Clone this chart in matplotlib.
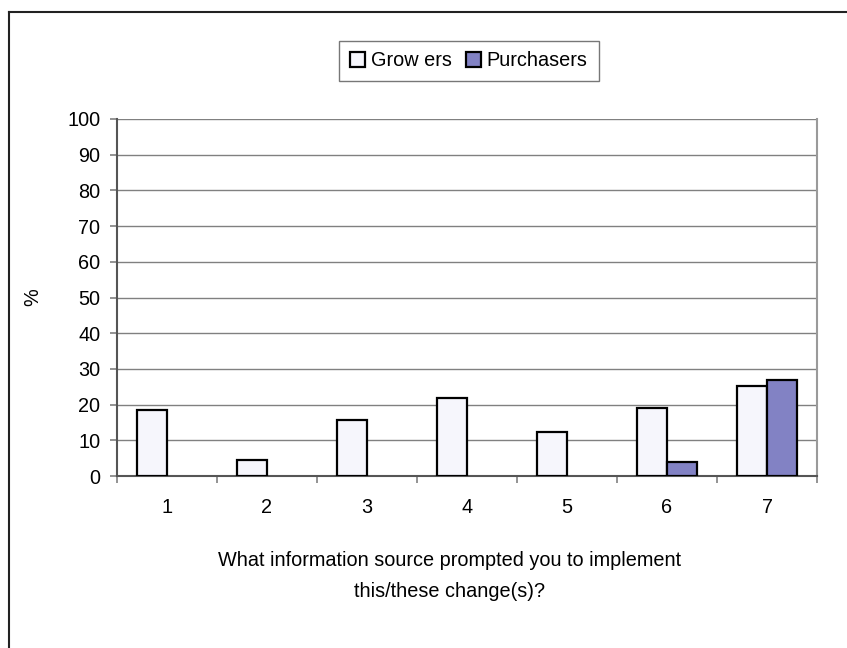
import matplotlib
matplotlib.use('Agg')
import matplotlib.pyplot as plt
from matplotlib.lines import Line2D
from matplotlib.patches import Patch
import numpy as np

plt.rcParams['font.family'] = ['Liberation Sans', 'DejaVu Sans']

# Survey answers (% of respondents)
categories = ['1', '2', '3', '4', '5', '6', '7']
growers = [18.5, 4.5, 15.7, 21.9, 12.4, 19.1, 25.3]
purchasers = [0, 0, 0, 0, 0, 4.0, 26.9]
y_ticks = [0, 10, 20, 30, 40, 50, 60, 70, 80, 90, 100]

GROWER_FILL = '#f6f6fc'
PURCH_FILL = '#8282c4'
GRID = '#808080'
FS = 14.3

fig = plt.figure(figsize=(8.47, 6.48), dpi=100)
ax = fig.add_axes([117 / 847, 1 - 476 / 648, 700 / 847, 357 / 648])

x = np.arange(len(categories))
w = 0.3
ax.bar(x - w / 2, growers, width=w, color=GROWER_FILL, edgecolor='black',
       linewidth=1.6, zorder=3, label='Grow ers')
ax.bar(x + w / 2, purchasers, width=w, color=PURCH_FILL, edgecolor='black',
       linewidth=1.6, zorder=3, label='Purchasers')
# hide the zero-height purchaser outlines
for p, v in zip(ax.patches[len(categories):], purchasers):
    if v == 0:
        p.set_visible(False)

ax.set_xlim(-0.5, len(categories) - 0.5)
ax.set_ylim(0, 100)
ax.set_yticks(y_ticks)
ax.set_yticklabels([str(t) for t in y_ticks], fontsize=FS)
ax.yaxis.grid(True, color=GRID, linewidth=1, zorder=0)
ax.set_axisbelow(True)

# category labels centred, tick marks on the boundaries
ax.set_xticks(x)
ax.set_xticklabels(categories, fontsize=FS)
ax.tick_params(axis='x', which='major', length=0, pad=16)
ax.set_xticks(np.arange(-0.5, len(categories)), minor=True)
ax.tick_params(axis='x', which='minor', length=5, color=GRID, width=1.2)
ax.tick_params(axis='y', length=5, color=GRID, width=1.2, pad=7)

for side in ['left', 'bottom']:
    ax.spines[side].set_color('#555555')
    ax.spines[side].set_linewidth(1.5)
ax.spines['right'].set_color('#9a9a9a')
ax.spines['right'].set_linewidth(1.5)
ax.spines['top'].set_visible(False)

fig.text(33 / 847, 1 - 297 / 648, '%', rotation=90, ha='center', va='center',
         fontsize=FS)
fig.text(450 / 847, 1 - 576 / 648,
         'What information source prompted you to implement\nthis/these change(s)?',
         ha='center', va='center', fontsize=FS, linespacing=1.85)

handles = [Patch(facecolor=GROWER_FILL, edgecolor='black', linewidth=1.6, label='Grow ers'),
           Patch(facecolor=PURCH_FILL, edgecolor='black', linewidth=1.6, label='Purchasers')]
leg = fig.legend(handles=handles, loc='center', bbox_to_anchor=(469 / 847, 1 - 61 / 648),
                 ncol=2, fontsize=FS, frameon=True, fancybox=False,
                 edgecolor='#555555', handlelength=0.75, handleheight=0.75,
                 handletextpad=0.3, columnspacing=0.7, borderpad=0.55)
leg.get_frame().set_linewidth(1.0)

# outer chart border (runs off the right and bottom edges)
fig.add_artist(Line2D([8.5 / 847, 1.01], [1 - 12 / 648] * 2, color='#222222', linewidth=1.5))
fig.add_artist(Line2D([8.5 / 847] * 2, [-0.01, 1 - 12 / 648], color='#222222', linewidth=1.5))

fig.savefig('out.png', dpi=100, facecolor='white')
